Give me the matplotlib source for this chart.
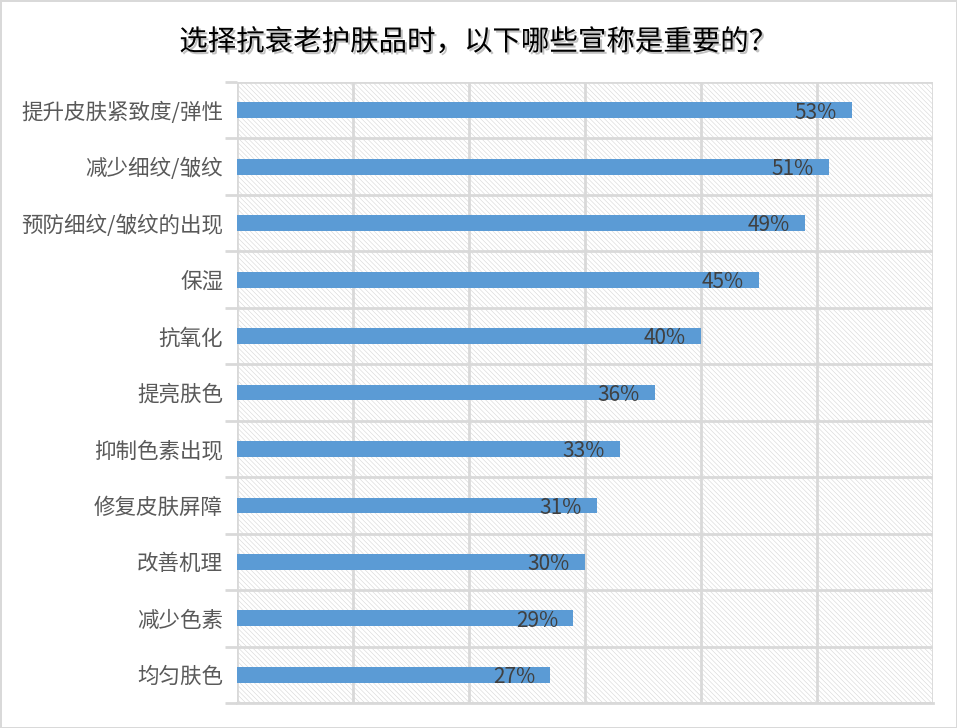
import numpy as np
from matplotlib import pyplot as plt
from matplotlib.patches import Rectangle
import matplotlib.patheffects as pe

plt.rcParams['font.family'] = ['Noto Sans CJK SC', 'DejaVu Sans']
plt.rcParams['hatch.linewidth'] = 0.4

# 数据
title = '选择抗衰老护肤品时，以下哪些宣称是重要的？'
categories = ['提升皮肤紧致度/弹性', '减少细纹/皱纹', '预防细纹/皱纹的出现', '保湿', '抗氧化',
              '提亮肤色', '抑制色素出现', '修复皮肤屏障', '改善机理', '减少色素', '均匀肤色']
values = [53, 51, 49, 45, 40, 36, 33, 31, 30, 29, 27]

fig = plt.figure(figsize=(9.57, 7.28), dpi=100)
fig.patch.set_edgecolor('#d9d9d9')
fig.patch.set_linewidth(2)
ax = fig.add_axes([0.2476, 0.0343, 0.7273, 0.8530])

n = len(categories)
y = np.arange(n)
ax.barh(y, values, height=0.28, color='#5b9bd5', zorder=3)

# 斜线背景
ax.add_patch(Rectangle((0, 0), 1, 1, transform=ax.transAxes, facecolor='white',
                       edgecolor='#d6d6d6', hatch='\\' * 7, linewidth=0, zorder=0))

ax.set_xlim(0, 60)
ax.set_ylim(n - 0.5, -0.5)
ax.set_xticks(np.arange(0, 61, 10))
ax.set_xticklabels([])
ax.tick_params(axis='x', length=0)

ax.set_yticks(y)
ax.set_yticklabels(categories, fontsize=15.5, color='#595959')
ax.set_yticks(np.arange(-0.5, n, 1), minor=True)
ax.tick_params(axis='y', which='major', length=0, pad=10)
ax.tick_params(axis='y', which='minor', length=9, width=2, color='#d9d9d9')

ax.grid(axis='x', which='major', color='#d9d9d9', linewidth=2, zorder=1)
ax.grid(axis='y', which='minor', color='#d9d9d9', linewidth=2, zorder=1)
for s in ['top', 'right', 'left']:
    ax.spines[s].set_visible(False)
ax.spines['bottom'].set_color('#d9d9d9')
ax.spines['bottom'].set_linewidth(2)

for yi, v in zip(y, values):
    ax.text(v - 1.3, yi + 0.04, f'{v}%', ha='right', va='center', fontsize=15,
            color='#404040', zorder=4)

fig.text(0.5, 0.942, title, ha='center', va='center', fontsize=20.5, color='black',
         path_effects=[pe.withSimplePatchShadow(offset=(1.5, -1.5), shadow_rgbFace='#999999', alpha=0.6)])

fig.savefig('out.png', dpi=100)
